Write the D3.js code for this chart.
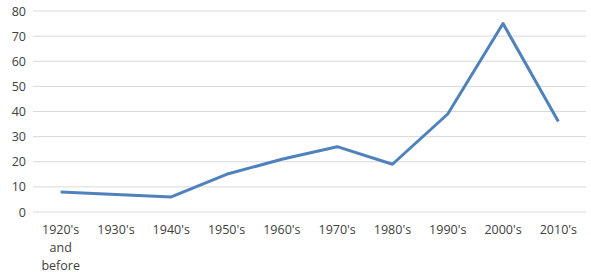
<!DOCTYPE html>
<html>
<head>
<meta charset="utf-8">
<script src="https://cdn.jsdelivr.net/npm/d3@7"></script>
<style>
  body { margin: 0; background: #fff; }
  text { font-family: "Open Sans", "Liberation Sans", sans-serif; fill: #404040; }
</style>
</head>
<body>
<script>
// Data
var decades = ["1920's and before", "1930's", "1940's", "1950's", "1960's", "1970's", "1980's", "1990's", "2000's", "2010's"];
var counts = [8, 7, 6, 15, 21, 26, 19, 39, 75, 36];
var yTicks = [0, 10, 20, 30, 40, 50, 60, 70, 80];

var svgWidth = 591;
var svgHeight = 278;

var margin = { top: 11, right: 5, bottom: 66, left: 33 };

var width = svgWidth - margin.left - margin.right;
var height = svgHeight - margin.top - margin.bottom;

var svg = d3.select("body")
  .append("svg")
  .attr("width", svgWidth)
  .attr("height", svgHeight);

var chartGroup = svg.append("g")
  .attr("transform", `translate(${margin.left}, ${margin.top})`);

var xScale = d3.scaleBand()
  .domain(decades)
  .range([0, width]);

var yScale = d3.scaleLinear()
  .domain([0, 80])
  .range([height, 0]);

// gridlines
chartGroup.append("g")
  .selectAll("line")
  .data(yTicks)
  .enter().append("line")
    .attr("x1", 0)
    .attr("x2", width)
    .attr("y1", d => yScale(d))
    .attr("y2", d => yScale(d))
    .attr("stroke", "#d9d9d9")
    .attr("stroke-width", 1);

// y axis
var leftAxis = d3.axisLeft(yScale).tickValues(yTicks).tickSize(0).tickPadding(7);
var yAxis = chartGroup.append("g").call(leftAxis);
yAxis.select(".domain").remove();
yAxis.selectAll("text").style("font-size", "12.5px").attr("fill", "#404040");

// x axis
var bottomAxis = d3.axisBottom(xScale).tickSize(0).tickPadding(13);
var xAxis = chartGroup.append("g")
  .attr("transform", `translate(0, ${height})`)
  .call(bottomAxis);
xAxis.select(".domain").remove();
xAxis.selectAll("text")
  .style("font-size", "12.5px")
  .attr("fill", "#404040")
  .each(function (d) {
    var t = d3.select(this);
    var words = d.split(" ");
    t.text(null);
    words.forEach(function (w, i) {
      t.append("tspan")
        .attr("x", 0)
        .attr("dy", i === 0 ? "0.71em" : "1.45em")
        .text(w);
    });
  });

// line
var line = d3.line()
  .x((d, i) => xScale(decades[i]) + xScale.bandwidth() / 2)
  .y(d => yScale(d));

chartGroup.append("path")
  .datum(counts)
  .attr("fill", "none")
  .attr("stroke", "#4f81bd")
  .attr("stroke-width", 3)
  .attr("stroke-linejoin", "round")
  .attr("d", line);
</script>
</body>
</html>
